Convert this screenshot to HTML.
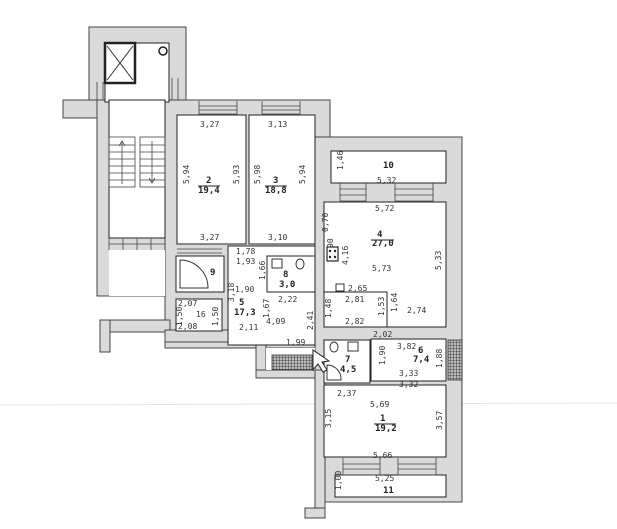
<!DOCTYPE html>
<html><head><meta charset="utf-8"><style>
html,body{margin:0;padding:0;background:#fff;}
svg{display:block}
text{font-family:"DejaVu Sans Mono","Liberation Mono",monospace;font-size:8px;fill:#333;}
.b{font-weight:bold;font-size:9px;fill:#222;}
</style></head><body>
<svg width="617" height="529" viewBox="0 0 617 529" xmlns="http://www.w3.org/2000/svg">
<defs>
<pattern id="h" width="3" height="3" patternUnits="userSpaceOnUse"><rect width="3" height="3" fill="#bbb"/><path d="M0 0H3M0 0V3" stroke="#222" stroke-width="0.8"/></pattern>
</defs>
<rect width="617" height="529" fill="#fff"/>
<line x1="0" y1="405" x2="617" y2="403" stroke="#e4e4e4" stroke-width="1"/>
<g fill="#dadada" stroke="#444" stroke-width="1">
<rect x="89" y="27" width="97" height="75"/>
<rect x="63" y="100" width="46" height="18"/>
<rect x="97" y="100" width="80" height="196"/>
<rect x="165" y="100" width="165" height="248"/>
<rect x="315" y="137" width="147" height="365"/>
<rect x="100" y="320" width="70" height="12"/>
<rect x="100" y="320" width="10" height="32"/>
<rect x="165" y="330" width="100" height="12"/>
<rect x="256" y="330" width="10" height="48"/>
<rect x="256" y="370" width="70" height="8"/>
<rect x="315" y="370" width="10" height="148"/>
<rect x="305" y="508" width="20" height="10"/>
</g>
<g fill="#fff" stroke="#222" stroke-width="1">
<rect x="105" y="43" width="64" height="59"/>
<rect x="109" y="100" width="56" height="138"/>
<rect x="109" y="250" width="56" height="46" stroke="none"/>
<rect x="177" y="115" width="69" height="129"/>
<rect x="249" y="115" width="66" height="129"/>
<rect x="331" y="151" width="115" height="32"/>
<rect x="324" y="202" width="122" height="125"/>
<rect x="324" y="292" width="63" height="35"/>
<rect x="228" y="246" width="87" height="99"/>
<rect x="176" y="256" width="48" height="36"/>
<rect x="267" y="256" width="48" height="36"/>
<rect x="176" y="299" width="46" height="32"/>
<rect x="324" y="340" width="46" height="43"/>
<rect x="371" y="339" width="75" height="42"/>
<rect x="324" y="385" width="122" height="72"/>
<rect x="335" y="475" width="111" height="22"/>
<rect x="266" y="348" width="49" height="22" stroke="none"/>
</g>
<rect x="105" y="43" width="30" height="40" fill="#fff" stroke="#222" stroke-width="2.5"/>
<line x1="107" y1="46" x2="133" y2="80" stroke="#333"/><line x1="133" y1="46" x2="107" y2="80" stroke="#333"/>
<circle cx="163" cy="51" r="4" fill="none" stroke="#222" stroke-width="1.5"/>
<g stroke="#444" stroke-width="0.8" fill="none">
<rect x="109" y="137" width="26" height="50"/><rect x="140" y="137" width="25" height="50"/>
<path d="M109 145H135M109 152H135M109 159H135M109 166H135M109 173H135M109 180H135M140 145H165M140 152H165M140 159H165M140 166H165M140 173H165M140 180H165"/>
<line x1="122" y1="142" x2="122" y2="184"/><line x1="152" y1="141" x2="152" y2="183"/>
<path d="M119 146L122 141L125 146M149 178L152 183L155 178"/>
<path d="M199 101V114H237V101M199 106H237M199 110H237"/>
<path d="M262 101V114H300V101M262 106H300M262 110H300"/>
<path d="M340 183V201H366V183M340 189H366M340 195H366M395 183V201H433V183M395 189H433M395 195H433"/>
<path d="M343 458V475H380V458M343 464H380M343 469H380M398 458V475H436V458M398 464H436M398 469H436"/>
<path d="M109 238V250M123 238V250M137 238V250M151 238V250M109 244H165"/>
<path d="M177 249H222M177 253H222"/>
<path d="M97 82V100M103 82V100M172 78V100M178 78V100"/>
</g>
<path d="M180 260V288H208A28 28 0 0 0 180 260Z" fill="#fff" stroke="#333"/>
<rect x="327" y="247" width="11" height="14" fill="#fff" stroke="#222" stroke-width="1.2"/>
<g fill="#222"><circle cx="330" cy="251" r="1.2"/><circle cx="335" cy="251" r="1.2"/><circle cx="330" cy="257" r="1.2"/><circle cx="335" cy="257" r="1.2"/></g>
<g stroke="#333" stroke-width="0.8">
<rect x="272" y="355" width="40" height="15" fill="url(#h)"/>
<rect x="448" y="340" width="14" height="40" fill="url(#h)"/>
</g>
<path d="M313 350L313 370L318 364L323 372L327 370L322 362L329 361Z" fill="#fff" stroke="#222"/>
<g fill="none" stroke="#333">
<rect x="272" y="259" width="10" height="9"/><ellipse cx="300" cy="264" rx="4" ry="5"/>
<rect x="336" y="284" width="8" height="7"/>
<ellipse cx="334" cy="347" rx="4" ry="5"/><rect x="348" y="342" width="10" height="9"/>
<path d="M327 380V365A14 14 0 0 1 341 380Z"/>
</g>
<text x="200" y="127">3,27</text><text x="268" y="127">3,13</text>
<text x="200" y="240">3,27</text><text x="268" y="240">3,10</text>
<text transform="translate(189,184) rotate(-90)">5,94</text>
<text transform="translate(239,184) rotate(-90)">5,93</text>
<text transform="translate(260,184) rotate(-90)">5,98</text>
<text transform="translate(305,184) rotate(-90)">5,94</text>
<text class="b" x="206" y="183">2</text><text class="b" x="198" y="193">19,4</text>
<line x1="198" y1="186" x2="220" y2="186" stroke="#222"/>
<text class="b" x="273" y="183">3</text><text class="b" x="265" y="193">18,8</text>
<line x1="265" y1="186" x2="287" y2="186" stroke="#222"/>
<text transform="translate(343,170) rotate(-90)">1,46</text>
<text class="b" x="383" y="168">10</text>
<text x="377" y="183">5,32</text><text x="375" y="211">5,72</text>
<text transform="translate(328,232) rotate(-90)">0,70</text>
<text transform="translate(333,248) rotate(-90)">90</text>
<text transform="translate(348,265) rotate(-90)">4,16</text>
<text class="b" x="377" y="237">4</text><text class="b" x="372" y="246">27,0</text>
<line x1="371" y1="240" x2="394" y2="240" stroke="#222"/>
<text x="372" y="271">5,73</text>
<text transform="translate(441,270) rotate(-90)">5,33</text>
<text x="348" y="291">2,65</text><text x="345" y="302">2,81</text><text x="345" y="324">2,82</text>
<text transform="translate(331,318) rotate(-90)">1,48</text>
<text transform="translate(384,316) rotate(-90)">1,53</text>
<text transform="translate(397,312) rotate(-90)">1,64</text>
<text x="407" y="313">2,74</text>
<text x="373" y="337">2,02</text>
<text x="397" y="349">3,82</text>
<text class="b" x="418" y="353">6</text><text class="b" x="413" y="362">7,4</text>
<text transform="translate(442,368) rotate(-90)">1,88</text>
<text transform="translate(385,365) rotate(-90)">1,90</text>
<text x="399" y="376">3,33</text><text x="399" y="387">3,32</text>
<text class="b" x="345" y="362">7</text><text class="b" x="340" y="372">4,5</text>
<text x="337" y="396">2,37</text>
<text x="370" y="407">5,69</text>
<text transform="translate(331,428) rotate(-90)">3,15</text>
<text transform="translate(442,430) rotate(-90)">3,57</text>
<text class="b" x="380" y="421">1</text><text class="b" x="375" y="431">19,2</text>
<line x1="374" y1="424" x2="396" y2="424" stroke="#222"/>
<text x="373" y="458">5,66</text><text x="375" y="481">5,25</text>
<text class="b" x="383" y="493">11</text>
<text transform="translate(341,490) rotate(-90)">1,00</text>
<text x="236" y="254">1,78</text><text x="236" y="264">1,93</text>
<text transform="translate(265,280) rotate(-90)">1,66</text>
<text class="b" x="283" y="277">8</text><text class="b" x="279" y="287">3,0</text>
<text class="b" x="210" y="275">9</text>
<text x="235" y="292">1,90</text>
<text transform="translate(234,302) rotate(-90)">3,18</text>
<text x="178" y="306">2,07</text><text x="196" y="317">16</text><text x="178" y="329">2,08</text>
<text transform="translate(182,326) rotate(-90)">1,50</text>
<text transform="translate(218,326) rotate(-90)">1,50</text>
<text class="b" x="239" y="305">5</text><text class="b" x="234" y="315">17,3</text>
<text transform="translate(269,318) rotate(-90)">1,67</text>
<text x="278" y="302">2,22</text><text x="266" y="324">4,09</text>
<text x="239" y="330">2,11</text>
<text transform="translate(313,330) rotate(-90)">2,41</text>
<text x="286" y="345">1,99</text>
</svg>
</body></html>
